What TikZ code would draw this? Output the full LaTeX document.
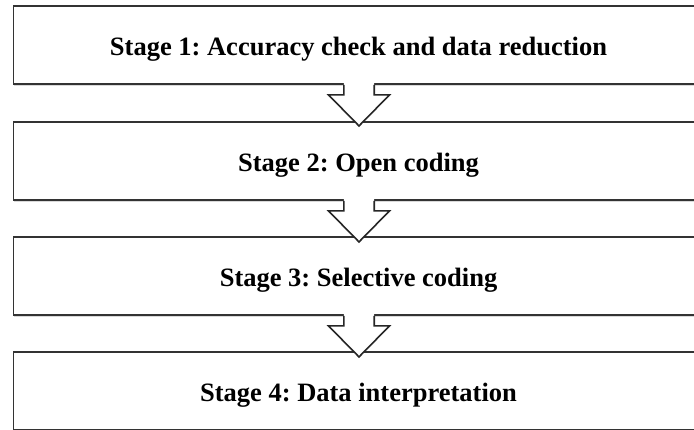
\documentclass[tikz,border=0pt]{standalone}
\usepackage{fontspec}
\setmainfont{Liberation Serif}
\usetikzlibrary{shadows}
\begin{document}
\begin{tikzpicture}[x=1pt,y=-1pt,
  stagebox/.style={draw=black!80, line width=1.8pt, fill=white,
    minimum width=690pt, minimum height=78pt, inner sep=0pt,
    text height=20pt, text depth=0pt,
    font=\fontsize{26.5}{30}\selectfont\bfseries\frenchspacing,
    drop shadow={shadow xshift=0.8pt, shadow yshift=-2pt, opacity=0.25, fill=black!60}},
  arrowline/.style={draw=black!85, line width=1.6pt, line join=miter}]
\clip (0,0) rectangle (694,429);
\node[stagebox] (b1) at (358.5,45) {Stage 1: Accuracy check and data reduction};
\node[stagebox] (b2) at (358.5,161) {Stage 2: Open coding};
\node[stagebox] (b3) at (358.5,276) {Stage 3: Selective coding};
\node[stagebox] (b4) at (358.5,391) {Stage 4: Data interpretation};
\foreach \s in {b1,b2,b3}{
  \fill[white] ([shift={(-14.7,-3)}]\s.south) -- ([shift={(-14.7,10)}]\s.south)
    -- ([shift={(-30,10)}]\s.south) -- ([shift={(0.5,41)}]\s.south)
    -- ([shift={(31,10)}]\s.south) -- ([shift={(15.7,10)}]\s.south)
    -- ([shift={(15.7,-3)}]\s.south) -- cycle;
  \draw[arrowline] ([shift={(-14.7,0)}]\s.south) -- ([shift={(-14.7,10)}]\s.south)
    -- ([shift={(-30,10)}]\s.south) -- ([shift={(0.5,41)}]\s.south)
    -- ([shift={(31,10)}]\s.south) -- ([shift={(15.7,10)}]\s.south)
    -- ([shift={(15.7,0)}]\s.south);
}
\end{tikzpicture}
\end{document}
